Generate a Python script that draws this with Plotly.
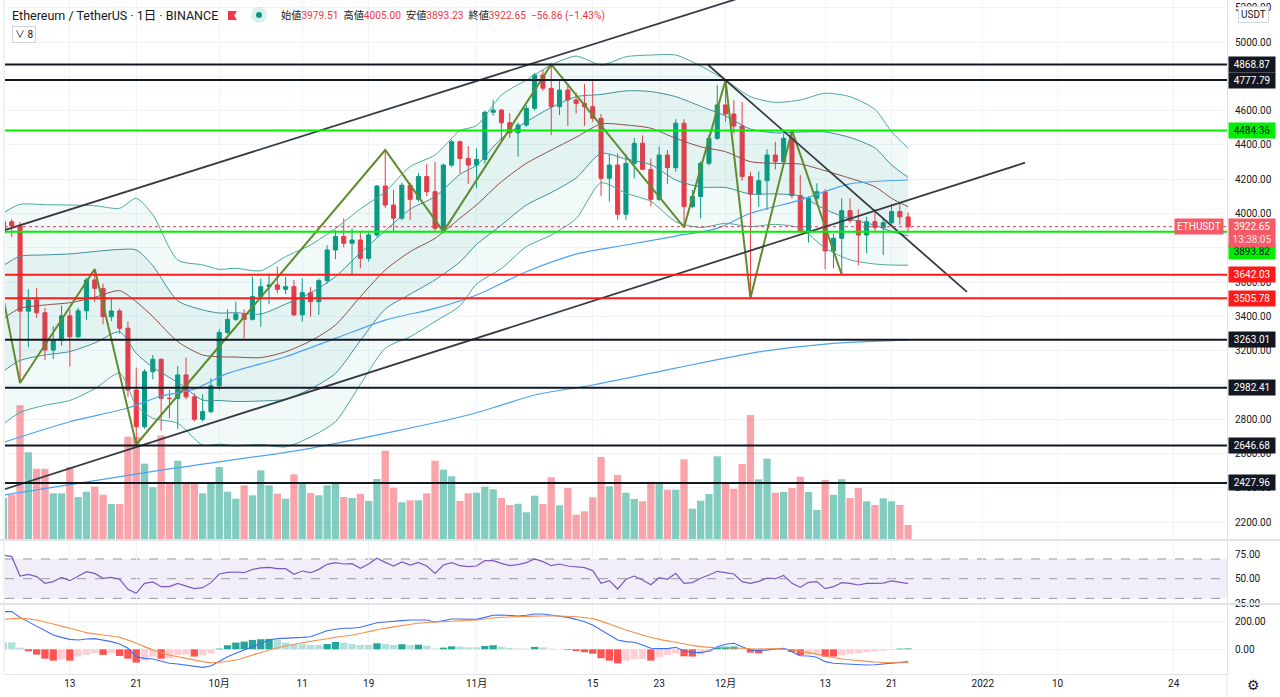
import pandas as pd
import plotly.graph_objects as go

FONT = "Roboto, Noto Sans CJK JP, DejaVu Sans, sans-serif"

# ---------------- data ----------------
dates = pd.date_range("2021-09-05", "2021-12-23", freq="D")

opens = [3887, 3952, 3927, 3430, 3495, 3421, 3203, 3260, 3403, 3281,
         3432, 3612, 3563, 3398, 3431, 3330, 2970, 2756, 3077, 3149,
         2922, 2920, 3058, 2930, 2799, 2844, 2995, 3305, 3382, 3413,
         3382, 3515, 3573, 3583, 3557, 3573, 3408, 3538, 3485, 3608,
         3787, 3865, 3826, 3845, 3738, 3874, 4160, 4049, 3972, 4164,
         4082, 4215, 4127, 3913, 4282, 4418, 4321, 4282, 4315, 4590,
         4603, 4529, 4471, 4516, 4613, 4808, 4730, 4623, 4720, 4662,
         4642, 4623, 4555, 4205, 4282, 3995, 4292, 4409, 4257, 4082,
         4341, 4267, 4526, 4040, 4099, 4292, 4438, 4633, 4580, 4510,
         4215, 4113, 4191, 4341, 4302, 4438, 4104, 3894, 4088, 4127,
         3781, 3855, 4016, 3958, 3874, 3952, 3917, 3946, 4011, 3979.51]
highs = [3975, 3968, 3950, 3559, 3565, 3450, 3343, 3462, 3440, 3450,
         3625, 3676, 3590, 3509, 3445, 3370, 3100, 3092, 3174, 3155,
         2970, 3110, 3160, 2951, 2945, 3038, 3324, 3442, 3485, 3440,
         3631, 3620, 3650, 3689, 3630, 3612, 3621, 3570, 3620, 3815,
         3903, 3972, 3913, 3890, 3888, 4165, 4370, 4137, 4180, 4180,
         4235, 4288, 4300, 4290, 4430, 4425, 4393, 4380, 4600, 4662,
         4610, 4585, 4530, 4630, 4820, 4837, 4868.87, 4775, 4760, 4705,
         4755, 4770, 4580, 4345, 4350, 4345, 4440, 4455, 4320, 4390,
         4370, 4550, 4550, 4137, 4305, 4460, 4749, 4777.79, 4660, 4650,
         4240, 4245, 4374, 4418, 4465, 4484.36, 4224, 4100, 4176, 4141,
         3880, 4088, 4088, 4024, 3980, 4024, 3972, 4055, 4068, 4005]
lows = [3850, 3862, 3011, 3220, 3390, 3145, 3150, 3228, 3107, 3270,
        3380, 3483, 3353, 3372, 3300, 2930, 2652, 2745, 3032, 2733,
        2805, 2741, 2915, 2787, 2786, 2835, 2970, 3295, 3373, 3271,
        3375, 3339, 3470, 3534, 3530, 3400, 3369, 3398, 3408, 3590,
        3733, 3802, 3641, 3680, 3720, 3860, 4030, 3894, 3960, 3962,
        4069, 4100, 3894, 3890, 4270, 4234, 4172, 4147, 4290, 4570,
        4424, 4440, 4331, 4505, 4600, 4715, 4457, 4574, 4510, 4584,
        4510, 4535, 4102, 4069, 3962, 3962, 4205, 4253, 4040, 4074,
        4172, 4243, 3919, 4030, 3972, 4280, 4430, 4535, 4467, 4191,
        3505.78, 4039, 4020, 4257, 4282, 4088, 3888, 3830, 4065, 3674,
        3680, 3642.03, 3942, 3699, 3767, 3895, 3757, 3935, 3935, 3893.23]
closes = [3952, 3927, 3430, 3495, 3421, 3203, 3260, 3403, 3281, 3432,
          3612, 3563, 3398, 3431, 3330, 2970, 2756, 3077, 3149, 2922,
          2920, 3058, 2930, 2799, 2844, 2995, 3305, 3382, 3413, 3382,
          3515, 3573, 3583, 3557, 3573, 3408, 3538, 3485, 3608, 3787,
          3865, 3826, 3845, 3738, 3874, 4160, 4049, 3972, 4164, 4082,
          4215, 4127, 3913, 4282, 4418, 4321, 4282, 4315, 4590, 4603,
          4529, 4471, 4516, 4613, 4808, 4730, 4623, 4720, 4662, 4642,
          4623, 4555, 4205, 4282, 3995, 4292, 4409, 4257, 4082, 4341,
          4267, 4526, 4040, 4099, 4292, 4438, 4633, 4580, 4510, 4215,
          4113, 4191, 4341, 4302, 4438, 4104, 3894, 4088, 4127, 3781,
          3855, 4016, 3958, 3874, 3952, 3917, 3946, 4011, 3979.51, 3922.65]
volume_k = [420, 453, 1347, 877, 713, 713, 467, 467, 730, 430,
            483, 533, 453, 360, 360, 1033, 1033, 763, 527, 1047,
            560, 793, 580, 580, 467, 567, 730, 483, 413, 547,
            447, 697, 547, 463, 413, 657, 567, 470, 447, 547,
            567, 430, 420, 463, 390, 610, 893, 523, 377, 397,
            397, 467, 793, 703, 637, 390, 467, 473, 533, 507,
            420, 350, 363, 277, 443, 360, 627, 347, 520, 253,
            287, 427, 830, 537, 650, 473, 410, 387, 583, 567,
            503, 503, 807, 313, 393, 460, 837, 577, 513, 760,
            1250, 607, 813, 473, 480, 520, 633, 480, 300, 600,
            453, 607, 420, 520, 387, 350, 417, 387, 350, 150]

bb_dates = ["2021-09-05", "2021-09-07", "2021-09-10", "2021-09-13", "2021-09-16", "2021-09-19",
            "2021-09-21", "2021-09-23", "2021-09-26", "2021-09-29", "2021-10-01", "2021-10-03",
            "2021-10-06", "2021-10-09", "2021-10-12", "2021-10-15", "2021-10-18", "2021-10-21",
            "2021-10-24", "2021-10-27", "2021-10-30", "2021-11-01", "2021-11-04", "2021-11-07",
            "2021-11-10", "2021-11-13", "2021-11-16", "2021-11-19", "2021-11-22", "2021-11-25",
            "2021-11-28", "2021-12-01", "2021-12-04", "2021-12-07", "2021-12-10", "2021-12-13",
            "2021-12-16", "2021-12-19", "2021-12-21", "2021-12-23"]
bb_mid = [3388, 3446, 3466, 3479, 3511, 3549, 3485, 3398, 3252, 3174, 3164, 3162, 3159, 3193,
          3256, 3349, 3514, 3670, 3777, 3855, 3972, 4050, 4185, 4292, 4370, 4444, 4522, 4516,
          4497, 4438, 4389, 4360, 4302, 4292, 4288, 4249, 4205, 4156, 4088, 4039]
bb_upper = [4004, 4053, 4051, 4049, 4045, 4030, 4088, 3991, 3728, 3700, 3674, 3680, 3666, 3748,
            3816, 3913, 4026, 4127, 4273, 4341, 4483, 4512, 4691, 4778, 4866, 4918, 4866, 4914,
            4924, 4924, 4860, 4778, 4681, 4648, 4662, 4701, 4681, 4607, 4477, 4380]
bb_inner_upper = [3696, 3750, 3758, 3764, 3778, 3790, 3787, 3695, 3490, 3437, 3419, 3421, 3413, 3471,
                  3536, 3631, 3770, 3899, 4025, 4098, 4228, 4281, 4438, 4535, 4618, 4681, 4694, 4715,
                  4711, 4681, 4625, 4569, 4492, 4470, 4475, 4475, 4443, 4382, 4283, 4210]
bb_inner_lower = [3080, 3142, 3174, 3194, 3244, 3309, 3184, 3102, 3014, 2911, 2909, 2903, 2906, 2916,
                  2976, 3067, 3258, 3442, 3529, 3612, 3717, 3819, 3932, 4049, 4122, 4207, 4350, 4317,
                  4284, 4195, 4154, 4151, 4113, 4114, 4101, 4023, 3967, 3931, 3894, 3869]
bb_lower = [2772, 2839, 2881, 2909, 2977, 3068, 2882, 2805, 2776, 2648, 2654, 2644, 2652, 2638,
            2696, 2785, 3002, 3213, 3281, 3369, 3461, 3588, 3679, 3806, 3874, 3970, 4178, 4118,
            4070, 3952, 3918, 3942, 3923, 3936, 3914, 3797, 3729, 3705, 3699, 3698]

ma50_dates = ["2021-09-05", "2021-09-13", "2021-09-20", "2021-09-24", "2021-09-28", "2021-10-02",
              "2021-10-09", "2021-10-15", "2021-10-21", "2021-10-27", "2021-11-01", "2021-11-07",
              "2021-11-13", "2021-11-19", "2021-11-25", "2021-11-30", "2021-12-04", "2021-12-10",
              "2021-12-16", "2021-12-23"]
ma50 = [2665, 2785, 2865, 2935, 2975, 3067, 3164, 3271, 3378, 3446, 3524, 3660, 3763, 3816,
        3868, 3913, 4001, 4078, 4172, 4195]
ma200_dates = ["2021-09-05", "2021-09-24", "2021-10-12", "2021-10-31", "2021-11-04", "2021-11-08",
               "2021-11-15", "2021-11-25", "2021-12-05", "2021-12-13", "2021-12-23"]
ma200 = [2357, 2503, 2630, 2824, 2882, 2941, 2999, 3098, 3192, 3238, 3262]

zigzag_dates = ["2021-09-03", "2021-09-07", "2021-09-16", "2021-09-21", "2021-10-21", "2021-10-28",
                "2021-11-10", "2021-11-26", "2021-12-01", "2021-12-04", "2021-12-09", "2021-12-15"]
zigzag_prices = [3990, 3011, 3676, 2652, 4370, 3894, 4868.87, 3919, 4777.79, 3505.78, 4484.36, 3642.03]

channel_upper_dates = ["2021-09-04 12:00", "2021-12-10 00:00"]
channel_upper_prices = [3893, 5368]
channel_lower_dates = ["2021-09-04 12:00", "2022-01-06 02:00"]
channel_lower_prices = [2381, 4296]
falling_dates = ["2021-11-28 22:00", "2021-12-30 02:00"]
falling_prices = [4866, 3542]

levels_black = [4868.87, 4777.79, 3263.01, 2982.41, 2646.68, 2427.96]
levels_green = [4484.36, 3893.82]
levels_red = [3642.03, 3505.78]

rsi = [74.1, 72.4, 52.7, 54.4, 52.1, 45.3, 47.0, 51.4, 48.0, 52.7,
       57.1, 55.4, 50.4, 51.4, 49.4, 39.2, 35.1, 45.3, 46.7, 41.9,
       41.9, 45.3, 42.9, 39.9, 40.9, 46.0, 54.8, 56.5, 56.8, 56.1,
       59.5, 60.9, 61.5, 60.2, 60.2, 54.4, 57.8, 56.1, 59.5, 64.6,
       66.3, 64.9, 65.3, 60.5, 64.9, 70.7, 66.6, 62.9, 67.0, 63.9,
       66.6, 62.9, 55.4, 63.9, 66.3, 63.2, 62.2, 62.9, 68.3, 68.3,
       65.6, 63.2, 64.3, 66.3, 70.0, 67.3, 63.2, 64.9, 62.9, 62.2,
       61.2, 58.2, 45.3, 48.0, 39.5, 49.4, 52.7, 48.7, 43.9, 51.0,
       49.4, 55.4, 45.3, 46.0, 50.4, 53.8, 57.5, 56.1, 54.8, 47.0,
       45.3, 47.3, 50.7, 50.0, 53.4, 45.3, 41.2, 46.3, 47.0, 39.9,
       41.9, 46.0, 45.3, 43.6, 45.3, 45.3, 45.6, 47.7, 46.7, 45.0]

macd = [269, 269, 228, 197, 166, 133, 102, 85, 71, 66,
        74, 76, 66, 55, 38, 7, -53, -65, -69, -84,
        -100, -105, -112, -124, -129, -119, -88, -53, -29, -5,
        19, 43, 66, 76, 78, 83, 85, 90, 109, 133,
        143, 150, 150, 157, 174, 190, 195, 202, 205, 209,
        209, 209, 193, 205, 216, 216, 214, 214, 228, 243,
        245, 243, 238, 243, 252, 252, 245, 238, 228, 214,
        197, 174, 138, 102, 66, 55, 50, 31, 7, 5,
        5, 14, -12, -22, -24, -12, 19, 36, 43, 19,
        -5, -10, -5, 2, 7, -17, -46, -48, -57, -88,
        -100, -103, -107, -112, -112, -110, -105, -96, -91, -88]
macd_hist = [50, 50, 12, -14, -38, -67, -81, -71, -81, -52,
             -40, -29, -40, -29, -48, -67, -95, -81, -52, -67,
             -64, -40, -38, -52, -43, -29, 5, 29, 48, 55,
             67, 72, 74, 67, 48, 36, 36, 31, 31, 38,
             52, 48, 38, 31, 31, 43, 38, 31, 36, 31,
             33, 26, 5, 12, 21, 19, 14, 14, 24, 29,
             19, 10, 5, 5, 17, 14, 5, 2, -5, -12,
             -21, -31, -64, -81, -100, -81, -71, -69, -81, -57,
             -40, -29, -50, -52, -36, -21, 12, 19, 20, 5,
             -24, -29, -10, -5, 5, -19, -43, -38, -33, -52,
             -52, -40, -36, -29, -21, -14, -10, -5, 5, 6]
signal_dates = ["2021-09-05", "2021-09-07", "2021-09-09", "2021-09-11", "2021-09-13", "2021-09-15",
                "2021-09-17", "2021-09-19", "2021-09-21", "2021-09-23", "2021-09-25", "2021-09-27",
                "2021-09-29", "2021-09-30", "2021-10-01", "2021-10-03", "2021-10-05", "2021-10-07",
                "2021-10-09", "2021-10-11", "2021-10-13", "2021-10-15", "2021-10-17", "2021-10-19",
                "2021-10-21", "2021-10-23", "2021-10-25", "2021-10-27", "2021-10-29", "2021-10-31",
                "2021-11-01", "2021-11-03", "2021-11-05", "2021-11-07", "2021-11-09", "2021-11-11",
                "2021-11-13", "2021-11-15", "2021-11-17", "2021-11-19", "2021-11-21", "2021-11-23",
                "2021-11-25", "2021-11-27", "2021-11-29", "2021-12-01", "2021-12-03", "2021-12-05",
                "2021-12-07", "2021-12-09", "2021-12-11", "2021-12-13", "2021-12-15", "2021-12-17",
                "2021-12-19", "2021-12-21", "2021-12-23"]
signal = [214, 221, 209, 181, 150, 119, 102, 85, 43, -5, -41, -65, -88, -96, -93, -77, -41, -5,
          24, 47, 66, 85, 102, 126, 150, 169, 186, 195, 200, 207, 209, 224, 231, 235, 238, 238,
          233, 219, 181, 138, 102, 71, 50, 28, 14, 12, 7, 2, 5, -5, -24, -48, -69, -81, -91, -96, -96]

tick_dates = ["2021-09-13", "2021-09-21", "2021-10-01", "2021-10-11", "2021-10-19", "2021-11-01",
              "2021-11-15", "2021-11-23", "2021-12-01", "2021-12-13", "2021-12-21", "2022-01-01",
              "2022-01-10", "2022-01-24"]
tick_labels = ["13", "21", "10月", "11", "19", "11月", "15", "23", "12月", "13", "21", "2022", "10", "24"]
price_ticks = list(range(2200, 5400, 200))
hidden_price_ticks = [4800, 3800, 3000]   # fully covered by level tags in the reference

# ---------------- geometry helpers (pixels -> paper) ----------------
W, H = 1280, 697
ML, MR, MT, MB = 5, 53, 0, 23
PW, PH = W - ML - MR, H - MT - MB


def px(x):
    return (x - ML) / PW


def py(y):
    return 1 - (y - MT) / PH


D_MAIN = py(540)
D_RSI = py(604)

UP, DN = "#089981", "#f23645"
TXT = "#131722"
GRID = "#f0f3fa"

fig = go.Figure()

# volume (base axis of main pane)
vol_colors = ["rgba(8,153,129,0.5)" if c >= o else "rgba(242,54,69,0.45)" for o, c in zip(opens, closes)]
fig.add_trace(go.Bar(x=dates, y=volume_k, marker=dict(color=vol_colors, line=dict(width=0)),
                     xaxis="x", yaxis="y", hoverinfo="skip"))

# Bollinger style bands
OUT_C, IN_C = "#4aa99c", "#3f8e9c"
fig.add_trace(go.Scatter(x=bb_dates, y=bb_lower, yaxis="y4", mode="lines",
                         line=dict(color=OUT_C, width=1, shape="spline", smoothing=0.7)))
fig.add_trace(go.Scatter(x=bb_dates, y=bb_upper, yaxis="y4", mode="lines", fill="tonexty",
                         fillcolor="rgba(38,166,154,0.06)",
                         line=dict(color=OUT_C, width=1, shape="spline", smoothing=0.7)))
fig.add_trace(go.Scatter(x=bb_dates, y=bb_inner_lower, yaxis="y4", mode="lines",
                         line=dict(color=IN_C, width=1, shape="spline", smoothing=0.7)))
fig.add_trace(go.Scatter(x=bb_dates, y=bb_inner_upper, yaxis="y4", mode="lines", fill="tonexty",
                         fillcolor="rgba(38,166,154,0.075)",
                         line=dict(color=IN_C, width=1, shape="spline", smoothing=0.7)))
fig.add_trace(go.Scatter(x=bb_dates, y=bb_mid, yaxis="y4", mode="lines",
                         line=dict(color="#8d4e45", width=1, shape="spline", smoothing=0.7)))
fig.add_trace(go.Scatter(x=ma50_dates, y=ma50, yaxis="y4", mode="lines",
                         line=dict(color="#4da3f0", width=1.2, shape="spline", smoothing=0.7)))
fig.add_trace(go.Scatter(x=ma200_dates, y=ma200, yaxis="y4", mode="lines",
                         line=dict(color="#4da3f0", width=1.2, shape="spline", smoothing=0.7)))

# candles
fig.add_trace(go.Candlestick(x=dates, open=opens, high=highs, low=lows, close=closes, yaxis="y4",
                             increasing=dict(line=dict(color=UP, width=1), fillcolor=UP),
                             decreasing=dict(line=dict(color=DN, width=1), fillcolor=DN),
                             whiskerwidth=0, hoverinfo="skip"))

# drawings
fig.add_trace(go.Scatter(x=zigzag_dates, y=zigzag_prices, yaxis="y4", mode="lines",
                         line=dict(color="#5f8c2f", width=2)))
for dd, pp in [(channel_upper_dates, channel_upper_prices), (channel_lower_dates, channel_lower_prices),
               (falling_dates, falling_prices)]:
    fig.add_trace(go.Scatter(x=dd, y=pp, yaxis="y4", mode="lines", line=dict(color="#363a45", width=1.8)))

# RSI
fig.add_trace(go.Scatter(x=dates, y=rsi, xaxis="x", yaxis="y2", mode="lines",
                         line=dict(color="#7e57c2", width=1.2)))

# MACD
hist_colors = []
prev = None
for h in macd_hist:
    if h >= 0:
        hist_colors.append("#26a69a" if (prev is not None and h > prev) else "#b2dfdb")
    else:
        hist_colors.append("#ffcdd2" if (prev is not None and h > prev) else "#ff5252")
    prev = h
fig.add_trace(go.Bar(x=dates, y=macd_hist, xaxis="x", yaxis="y3",
                     marker=dict(color=hist_colors, line=dict(width=0))))
fig.add_trace(go.Scatter(x=dates, y=macd, xaxis="x", yaxis="y3", mode="lines",
                         line=dict(color="#3f6ff5", width=1.1)))
fig.add_trace(go.Scatter(x=signal_dates, y=signal, xaxis="x", yaxis="y3", mode="lines",
                         line=dict(color="#f7904a", width=1.1, shape="spline", smoothing=0.5)))

# ---------------- shapes ----------------
shapes = []
for p in levels_black:
    shapes.append(dict(type="line", xref="paper", x0=0, x1=1, yref="y4", y0=p, y1=p,
                       line=dict(color="#131722", width=2)))
for p in levels_green:
    shapes.append(dict(type="line", xref="paper", x0=0, x1=1, yref="y4", y0=p, y1=p,
                       line=dict(color="#00ee00", width=2)))
for p in levels_red:
    shapes.append(dict(type="line", xref="paper", x0=0, x1=1, yref="y4", y0=p, y1=p,
                       line=dict(color="#ff1a1a", width=2)))
last = closes[-1]
shapes.append(dict(type="line", xref="paper", x0=0, x1=1, yref="y4", y0=last, y1=last,
                   line=dict(color=DN, width=1, dash="dot")))
# RSI band and guide lines
shapes.append(dict(type="rect", xref="paper", x0=0, x1=1, yref="y2", y0=30, y1=70,
                   fillcolor="rgba(126,87,194,0.1)", line=dict(width=0), layer="below"))
for v in (70, 50, 30):
    shapes.append(dict(type="line", xref="paper", x0=0, x1=1, yref="y2", y0=v, y1=v,
                       line=dict(color="#9598a1", width=1, dash="dash"), layer="below"))
# pane separators and borders
for yy in (540, 604):
    shapes.append(dict(type="line", xref="paper", yref="paper", x0=px(0), x1=px(1280), y0=py(yy), y1=py(yy),
                       line=dict(color="#e0e3eb", width=2)))
shapes.append(dict(type="line", xref="paper", yref="paper", x0=px(4), x1=px(4), y0=py(0), y1=py(674),
                   line=dict(color="#e0e3eb", width=1)))
shapes.append(dict(type="line", xref="paper", yref="paper", x0=1, x1=1, y0=py(674), y1=py(697),
                   line=dict(color="#e0e3eb", width=1)))
# legend icons: flag and status dot
fx0, fx1, fy0, fy1 = px(228), px(237), py(11), py(20)
fxm, fym = px(234), py(15.5)
shapes.append(dict(type="path", xref="paper", yref="paper",
                   path=f"M {fx0},{fy0} L {fx1},{fy0} L {fxm},{fym} L {fx1},{fy1} L {fx0},{fy1} Z",
                   fillcolor=DN, line=dict(width=0)))
shapes.append(dict(type="circle", xref="paper", yref="paper", x0=px(251), x1=px(267), y0=py(23), y1=py(7),
                   fillcolor="rgba(8,153,129,0.15)", line=dict(width=0)))
shapes.append(dict(type="circle", xref="paper", yref="paper", x0=px(256), x1=px(262), y0=py(18), y1=py(12),
                   fillcolor=UP, line=dict(width=0)))

# ---------------- annotations ----------------
ann = []


def tag(price, text, bg, fg, yshift=0):
    ann.append(dict(xref="paper", yref="y4", x=1, y=price, xanchor="left", yanchor="middle",
                    xshift=1, yshift=yshift, text=text, showarrow=False, bgcolor=bg, borderpad=2,
                    width=42, align="center", font=dict(family=FONT, size=10, color=fg)))


for p in levels_black:
    tag(p, f"{p:.2f}", "#131722", "#ffffff")
tag(levels_green[0], f"{levels_green[0]:.2f}", "#00ee00", "#131722")
tag(levels_green[1], f"{levels_green[1]:.2f}", "#00ee00", "#131722", yshift=-20)
for p in levels_red:
    tag(p, f"{p:.2f}", "#ff1a1a", "#ffffff")
tag(last, f"{last:.2f}<br><span style='color:#fde3e5'>13:38:05</span>", "#f55a66", "#ffffff", yshift=-6)
ann.append(dict(xref="paper", yref="y4", x=1, y=last, xanchor="right", yanchor="middle", xshift=-3,
                text="ETHUSDT", showarrow=False, bgcolor="#f55a66", borderpad=2,
                font=dict(family=FONT, size=10, color="#ffffff")))

ann.append(dict(xref="paper", yref="paper", x=px(10), y=py(15), xanchor="left", yanchor="middle",
                text="Ethereum / TetherUS · 1日 · BINANCE", showarrow=False,
                font=dict(family=FONT, size=12.5, color=TXT)))
prev_close = closes[-2]
chg = last - prev_close
pct = chg / prev_close * 100
R = DN


def kv(k, v):
    return f"<span style='color:{TXT}'>{k}</span><span style='color:{R}'>{v}</span>"


ohlc_text = "  ".join([kv("始値", f"{opens[-1]:.2f}"), kv("高値", f"{highs[-1]:.2f}"),
                       kv("安値", f"{lows[-1]:.2f}"), kv("終値", f"{closes[-1]:.2f}")]) + \
    f"  <span style='color:{R}'>{chg:+.2f} ({pct:+.2f}%)</span>".replace("-", "−")
ann.append(dict(xref="paper", yref="paper", x=px(279), y=py(15), xanchor="left", yanchor="middle",
                text=ohlc_text, showarrow=False, font=dict(family=FONT, size=10.2, color=TXT)))
ann.append(dict(xref="paper", yref="paper", x=px(12), y=py(34.5), xanchor="left", yanchor="middle",
                text="∨ 8", showarrow=False, bordercolor="#d1d4dc", borderwidth=1, borderpad=2,
                bgcolor="#ffffff", font=dict(family=FONT, size=10, color=TXT)))
ann.append(dict(xref="paper", yref="paper", x=px(1253), y=py(14), xanchor="center", yanchor="middle",
                text="USDT", showarrow=False, bordercolor="#d1d4dc", borderwidth=1, borderpad=2,
                bgcolor="#ffffff", font=dict(family=FONT, size=10, color=TXT)))
ann.append(dict(xref="paper", yref="paper", x=px(1253), y=py(685), xanchor="center", yanchor="middle",
                text="⚙", showarrow=False, font=dict(family="DejaVu Sans", size=14, color=TXT)))

axis_font = dict(family=FONT, size=10, color=TXT)
price_ticktext = ["" if t in hidden_price_ticks else f"{t:.2f}" for t in price_ticks]
fig.update_layout(
    width=W, height=H, margin=dict(l=ML, r=MR, t=MT, b=MB),
    paper_bgcolor="#ffffff", plot_bgcolor="#ffffff", showlegend=False, hovermode=False,
    bargap=0.12,
    xaxis=dict(type="date", range=["2021-09-05 04:30", "2022-01-30 10:00"], anchor="y3",
               tickvals=tick_dates, ticktext=tick_labels, tickfont=axis_font, showgrid=True,
               gridcolor=GRID, zeroline=False, showline=True, linecolor="#e0e3eb",
               rangeslider=dict(visible=False), ticks=""),
    yaxis=dict(domain=[D_MAIN, 1], range=[0, 5400], visible=False, fixedrange=True),
    yaxis4=dict(overlaying="y", side="right", anchor="x", range=[2095, 5245], tickvals=price_ticks,
                ticktext=price_ticktext, tickfont=axis_font, showgrid=True, gridcolor=GRID,
                zeroline=False, showline=True, linecolor="#e0e3eb", ticks="", ticklabelstandoff=5),
    yaxis2=dict(domain=[D_RSI, D_MAIN], side="right", anchor="x", range=[24.31, 89.29],
                tickvals=[25, 50, 75], tickformat=".2f", tickfont=axis_font, showgrid=False,
                zeroline=False, showline=True, linecolor="#e0e3eb", ticks="", ticklabelstandoff=5),
    yaxis3=dict(domain=[0, D_RSI], side="right", anchor="x", range=[-176.4, 323.6],
                tickvals=[0, 200], tickformat=".2f", tickfont=axis_font, showgrid=True, gridcolor=GRID,
                zeroline=False, showline=True, linecolor="#e0e3eb", ticks="", ticklabelstandoff=5),
    shapes=shapes, annotations=ann,
)

fig.write_html("out.html",
               config={"displayModeBar": False, "staticPlot": True},
               post_script="document.body.style.margin='0';document.body.style.padding='0';"
                           "document.documentElement.style.overflow='hidden';")
